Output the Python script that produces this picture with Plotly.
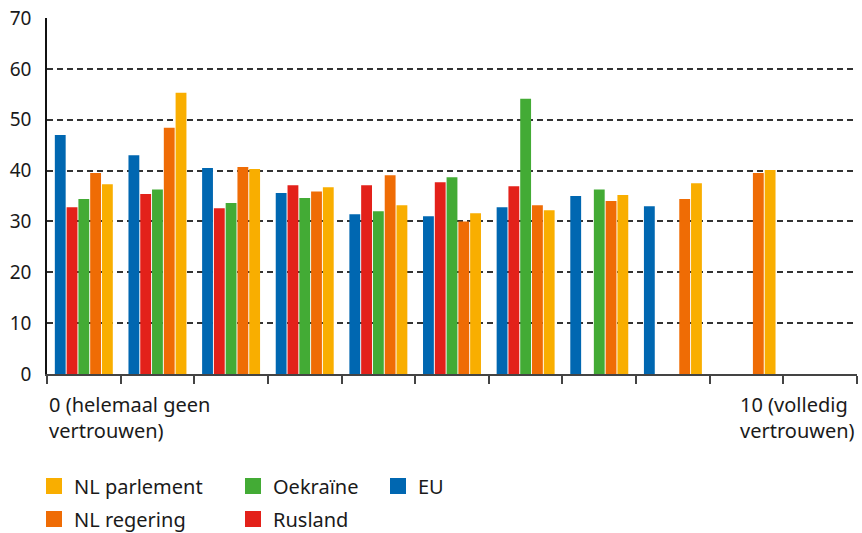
import plotly.graph_objects as go

categories = ["0", "1", "2", "3", "4", "5", "6", "7", "8", "9", "10"]
eu = [47.0, 43.0, 40.5, 35.6, 31.4, 31.0, 32.8, 35.0, 33.0, None, None]
rusland = [32.8, 35.4, 32.6, 37.1, 37.1, 37.7, 36.9, None, None, None, None]
oekraine = [34.4, 36.3, 33.6, 34.6, 32.0, 38.7, 54.1, 36.3, None, None, None]
nl_regering = [39.5, 48.4, 40.7, 35.9, 39.1, 30.0, 33.2, 34.0, 34.4, 39.5, None]
nl_parlement = [37.3, 55.3, 40.3, 36.7, 33.2, 31.6, 32.2, 35.2, 37.5, 40.1, None]
y_ticks = [0, 10, 20, 30, 40, 50, 60, 70]
label_first = "0 (helemaal geen<br>vertrouwen)"
label_last = "10 (volledig<br>vertrouwen)"

FONT = "Noto Sans"
TXT = "#1a1a1a"

series = [
    ("EU", eu, "#0067B1", "legend3"),
    ("Rusland", rusland, "#E3211A", "legend5"),
    ("Oekraïne", oekraine, "#43AB35", "legend2"),
    ("NL regering", nl_regering, "#EF6C05", "legend4"),
    ("NL parlement", nl_parlement, "#F9AE00", "legend"),
]

fig = go.Figure()
for name, vals, col, lg in series:
    fig.add_trace(go.Bar(x=categories, y=vals, name=name, marker_color=col,
                         marker_line_width=0, showlegend=False))
# legend swatches (16 px squares, as in the reference)
for name, vals, col, lg in series:
    fig.add_trace(go.Scatter(x=[None], y=[None], mode="markers", name=name,
                             marker=dict(symbol="square", size=16, color=col,
                                         line=dict(width=0)),
                             legend=lg, showlegend=True, hoverinfo="skip"))

H = 356.0
def py(pix):
    return (374 - pix) / H

def px(pix):
    return (pix - 47) / 810.0

leg_common = dict(orientation="v", xanchor="left", yanchor="middle",
                  font=dict(family=FONT, size=20, color=TXT),
                  bgcolor="rgba(0,0,0,0)", borderwidth=0, itemsizing="trace")

row1, row2 = 486, 519
fig.update_layout(
    width=862, height=533,
    margin=dict(l=47, r=5, t=18, b=159, autoexpand=False),
    paper_bgcolor="white", plot_bgcolor="white",
    showlegend=True,
    barmode="group", bargap=0.2, bargroupgap=0.08,
    font=dict(family=FONT, size=19, color=TXT),
    legend=dict(x=px(34), y=py(row1), **leg_common),
    legend2=dict(x=px(233), y=py(row1), **leg_common),
    legend3=dict(x=px(378), y=py(row1), **leg_common),
    legend4=dict(x=px(34), y=py(row2), **leg_common),
    legend5=dict(x=px(233), y=py(row2), **leg_common),
    xaxis=dict(type="category", categoryorder="array", categoryarray=categories,
               range=[-0.5, 10.5], showticklabels=False, ticks="outside",
               tickson="boundaries", ticklen=8, tickwidth=1.5, tickcolor="#444",
               showline=True, linecolor="#444", linewidth=1.5, showgrid=False),
    yaxis=dict(range=[0, 70], tickvals=y_ticks, showgrid=True, gridcolor="#333",
               gridwidth=1.6, griddash="6px,4px", zeroline=False, showline=True,
               linecolor="#111", linewidth=1.5, ticks="", ticklabelstandoff=10,
               tickfont=dict(family=FONT, size=19, color=TXT)),
    annotations=[
        dict(text=label_first, x=0, y=py(417), xref="paper", yref="paper",
             xanchor="left", yanchor="middle", align="left", showarrow=False,
             font=dict(family=FONT, size=20, color=TXT)),
        dict(text=label_last, x=1.0, y=py(417), xref="paper", yref="paper",
             xanchor="right", yanchor="middle", align="left", showarrow=False,
             font=dict(family=FONT, size=20, color=TXT)),
    ],
)

fig.write_html("out.html", config={"displayModeBar": False},
               post_script="document.body.style.margin='0';")
